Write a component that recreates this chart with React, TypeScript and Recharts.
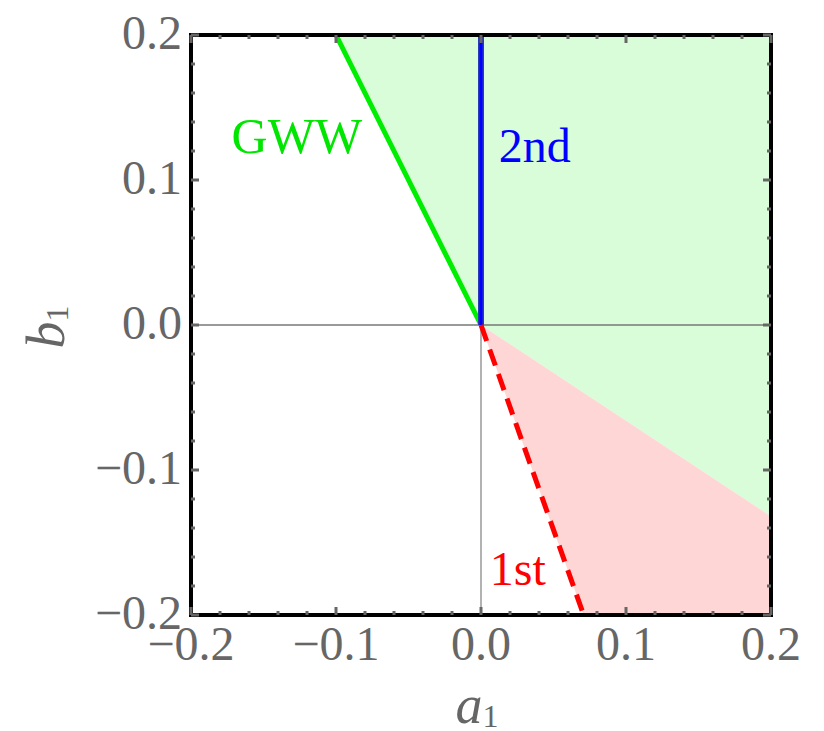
import React from 'react';
import { ComposedChart, Area, Line, XAxis, YAxis, ReferenceLine, ReferenceDot, ReferenceArea } from 'recharts';

// tick positions (frame ticks every 0.02, labelled every 0.1)
const FRAME_TICKS = [-0.2, -0.18, -0.16, -0.14, -0.12, -0.1, -0.08, -0.06, -0.04, -0.02, 0, 0.02, 0.04, 0.06, 0.08, 0.1, 0.12, 0.14, 0.16, 0.18, 0.2];
const MAJOR_TICKS = [-0.2, -0.1, 0, 0.1, 0.2];

// phase boundaries
const gwwLine = [{ a: -0.1, b: 0.2 }, { a: 0, b: 0 }];
const secondLine = [{ a: 0, b: 0 }, { a: 0, b: 0.2 }];
const firstLine = [{ a: 0, b: 0 }, { a: 0.0708, b: -0.2 }];

// shaded regions, [lower, upper] in b
const greenRegion = [
    { a: -0.1, range: [0.2, 0.2] },
    { a: 0, range: [0, 0.2] },
    { a: 0.2, range: [-0.132, 0.2] },
];
const pinkRegion = [
    { a: 0, range: [0, 0] },
    { a: 0.0708, range: [-0.2, -0.0467] },
    { a: 0.2, range: [-0.2, -0.132] },
];

const annotations = [
    { a: -0.127, b: 0.1186, text: 'GWW', color: '#00e600', size: 50 },
    { a: 0.037, b: 0.1124, text: '2nd', color: '#0000ff', size: 48 },
    { a: 0.0254, b: -0.179, text: '1st', color: '#ff0000', size: 48 },
];

const FONT = 'Liberation Serif, DejaVu Serif, serif';
const GRAY = '#666666';
const TICK_FONT = 48;

const isMajor = (v: number) => MAJOR_TICKS.some(m => Math.abs(m - v) < 1e-6);
const fmt = (v: number) => {
    const s = Math.abs(v).toFixed(1);
    return v < -1e-9 ? '\u2212' + s : s;
};

// side: which frame edge; label: draw text or not
const makeTick = (side: 'bottom' | 'top' | 'left' | 'right', label: boolean) => (props: any) => {
    const { x, y, payload } = props;
    const v = payload.value;
    const major = isMajor(v);
    const len = major ? 8 : 4;
    let x2 = x, y2 = y;
    if (side === 'bottom') y2 = y - len;
    if (side === 'top') y2 = y + len;
    if (side === 'left') x2 = x + len;
    if (side === 'right') x2 = x - len;
    return (
        <g>
            <line x1={x} y1={y} x2={x2} y2={y2} stroke={GRAY} strokeWidth={3} />
            {label && major && side === 'bottom' && (
                <text x={x} y={y + 45} textAnchor="middle" fill={GRAY} fontFamily={FONT} fontSize={TICK_FONT}>{fmt(v)}</text>
            )}
            {label && major && side === 'left' && (
                <text x={x - 9} y={y + 14} textAnchor="end" fill={GRAY} fontFamily={FONT} fontSize={TICK_FONT}>{fmt(v)}</text>
            )}
        </g>
    );
};

const XLabel = (props: any) => {
    const vb = props.viewBox || {};
    const cx = vb.x + vb.width / 2 - 4;
    const y = vb.y + 108;
    return (
        <text x={cx} y={y} textAnchor="middle" fill={GRAY} fontFamily={FONT} fontSize={54}>
            <tspan fontStyle="italic">a</tspan>
            <tspan fontSize={32} dy={4}>1</tspan>
        </text>
    );
};

const YLabel = () => {
    const cx = 64;
    const cy = 327;
    return (
        <text x={cx} y={cy} textAnchor="middle" fill={GRAY} fontFamily={FONT} fontSize={54} transform={`rotate(-90, ${cx}, ${cy})`}>
            <tspan fontStyle="italic">b</tspan>
            <tspan fontSize={32} dy={4}>1</tspan>
        </text>
    );
};

const AnnotationLabel = (text: string, color: string, size: number) => (props: any) => {
    const vb = props.viewBox || {};
    return (
        <text x={vb.x} y={vb.y} textAnchor="middle" fill={color} fontFamily={FONT} fontSize={size}>{text}</text>
    );
};

const frameLine = { stroke: '#000000', strokeWidth: 4, strokeLinecap: 'square' as const };

const App: React.FC = () => {
    return (
        <div style={{ position: 'absolute', left: 0, top: 0, background: '#ffffff' }}>
            <ComposedChart width={824} height={731} margin={{ top: 34, right: 52, bottom: 0, left: 0 }}>
                <XAxis dataKey="a" type="number" domain={[-0.2, 0.2]} ticks={FRAME_TICKS} interval={0}
                    tickSize={0} tickMargin={0} tickLine={false} axisLine={frameLine} height={116}
                    tick={makeTick('bottom', true)} label={<XLabel />} />
                <XAxis xAxisId="top" orientation="top" dataKey="a" type="number" domain={[-0.2, 0.2]} ticks={FRAME_TICKS}
                    interval={0} tickSize={0} tickMargin={0} tickLine={false} axisLine={frameLine} height={1}
                    tick={makeTick('top', false)} />
                <YAxis type="number" domain={[-0.2, 0.2]} ticks={FRAME_TICKS} interval={0}
                    tickSize={0} tickMargin={0} tickLine={false} axisLine={frameLine} width={191}
                    tick={makeTick('left', true)} label={<YLabel />} />
                <YAxis yAxisId="right" orientation="right" type="number" domain={[-0.2, 0.2]} ticks={FRAME_TICKS}
                    interval={0} tickSize={0} tickMargin={0} tickLine={false} axisLine={frameLine} width={1}
                    tick={makeTick('right', false)} />

                <Area data={greenRegion} dataKey="range" type="linear" fill="#d9fcd9" fillOpacity={1} stroke="none" isAnimationActive={false} />
                <Area data={pinkRegion} dataKey="range" type="linear" fill="#ffd6d6" fillOpacity={1} stroke="none" isAnimationActive={false} />

                <ReferenceLine x={0} stroke="#999999" strokeWidth={1.5} />
                <ReferenceLine y={0} stroke="#777777" strokeWidth={1.5} />

                <Line data={gwwLine} dataKey="b" type="linear" stroke="#00ee00" strokeWidth={5} dot={false} isAnimationActive={false} />
                <Line data={secondLine} dataKey="b" type="linear" stroke="#2b3bb8" strokeWidth={6} dot={false} isAnimationActive={false} />
                <Line data={secondLine} dataKey="b" type="linear" stroke="#0000ff" strokeWidth={3} dot={false} isAnimationActive={false} />
                <Line data={firstLine} dataKey="b" type="linear" stroke="#ff0000" strokeWidth={5} strokeDasharray="17 9" dot={false} isAnimationActive={false} />
                {/* invisible series bound to the top/right frame axes so they get drawn */}
                <Line data={secondLine} dataKey="b" xAxisId="top" yAxisId="right" stroke="none" dot={false} isAnimationActive={false} />

                {/* black frame under the axis lines, so the shading never shows through */}
                <ReferenceArea x1={-0.2} x2={0.2} y1={-0.2} y2={0.2} fill="none" fillOpacity={0}
                    stroke="#000000" strokeWidth={4} strokeOpacity={1} ifOverflow="visible" />

                {annotations.map(n => (
                    <ReferenceDot key={n.text} x={n.a} y={n.b} r={0} fill="none" stroke="none"
                        label={AnnotationLabel(n.text, n.color, n.size)} />
                ))}
            </ComposedChart>
        </div>
    );
};

export default App;
